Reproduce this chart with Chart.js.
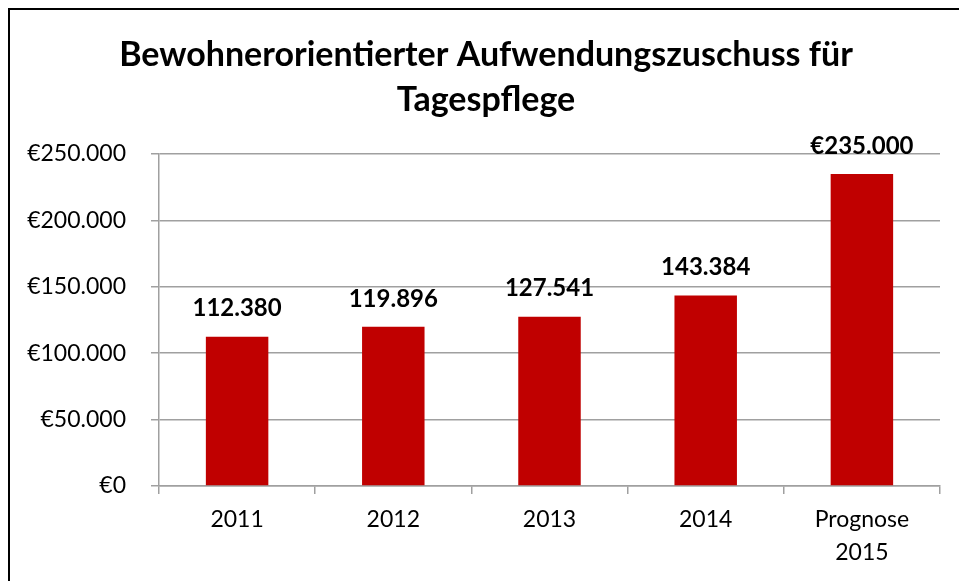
<!DOCTYPE html>
<html>
<head>
<meta charset="utf-8">
<script src="https://cdn.jsdelivr.net/npm/chart.js@4"></script>
<style>
  html, body { margin: 0; padding: 0; background: #fff; overflow: hidden; }
  #wrap { position: relative; width: 959px; height: 581px; }
  #frame { position: absolute; left: 8px; top: 8px; width: 1200px; height: 1200px;
           border-left: 2px solid #000; border-top: 2px solid #000; pointer-events: none; }
</style>
</head>
<body>
<div id="wrap">
  <canvas id="c" width="959" height="581"></canvas>
  <div id="frame"></div>
</div>
<script>
// Jährliche Aufwendungszuschüsse (Euro)
const categories = ['2011', '2012', '2013', '2014', ['Prognose', '2015']];
const values = [112380, 119896, 127541, 143384, 235000];
const labelPrefix = ['', '', '', '', '€'];
const yTicks = [0, 50000, 100000, 150000, 200000, 250000];
const titleLines = ['Bewohnerorientierter Aufwendungszuschuss für', 'Tagespflege'];

const FONT = 'Lato, "Open Sans", sans-serif';
const GRID = '#a0a0a0';

const fmt = v => v.toLocaleString('de-DE');

// Zweizeiliger Titel, mittig über dem Rahmen
const chartTitle = {
  id: 'chartTitle',
  afterDraw(chart) {
    const ctx = chart.ctx;
    ctx.save();
    ctx.font = 'bold 34px ' + FONT;
    ctx.fillStyle = '#000';
    ctx.textAlign = 'center';
    ctx.textBaseline = 'middle';
    titleLines.forEach((line, i) => ctx.fillText(line, 486, 55 + i * 45));
    ctx.restore();
  }
};

// Wertbeschriftungen über den Säulen
const valueLabels = {
  id: 'valueLabels',
  afterDatasetsDraw(chart) {
    const ctx = chart.ctx;
    const meta = chart.getDatasetMeta(0);
    ctx.save();
    ctx.font = 'bold 24px ' + FONT;
    ctx.fillStyle = '#000';
    ctx.textAlign = 'center';
    ctx.textBaseline = 'middle';
    meta.data.forEach((bar, i) => {
      ctx.fillText(labelPrefix[i] + fmt(values[i]), bar.x, bar.y - 28);
    });
    ctx.restore();
  }
};

new Chart(document.getElementById('c'), {
  type: 'bar',
  data: {
    labels: categories,
    datasets: [{
      data: values,
      backgroundColor: '#c00000',
      borderWidth: 0,
      barPercentage: 0.4,
      categoryPercentage: 1.0
    }]
  },
  options: {
    responsive: false,
    animation: false,
    layout: { padding: { left: 0, right: 19, top: 154, bottom: 0 } },
    plugins: {
      legend: { display: false },
      tooltip: { enabled: false },
      title: { display: false }
    },
    scales: {
      x: {
        grid: { drawOnChartArea: false, drawTicks: true, tickLength: 8, color: GRID, lineWidth: 1.5 },
        border: { display: true, color: GRID, width: 1.5 },
        ticks: { color: '#000', font: { family: FONT, size: 23, lineHeight: 1.43 }, padding: 9, maxRotation: 0 },
        afterFit(scale) { scale.height = 95; }
      },
      y: {
        min: 0,
        max: 250000,
        afterBuildTicks(scale) { scale.ticks = yTicks.map(v => ({ value: v })); },
        grid: { drawOnChartArea: true, drawTicks: true, tickLength: 8, color: GRID, lineWidth: 1.5 },
        border: { display: true, color: GRID, width: 1.5 },
        ticks: {
          color: '#000',
          font: { family: FONT, size: 23 },
          padding: 25,
          callback: v => '€' + fmt(v)
        },
        afterFit(scale) { scale.width = 159; }
      }
    }
  },
  plugins: [valueLabels, chartTitle]
});
</script>
</body>
</html>
